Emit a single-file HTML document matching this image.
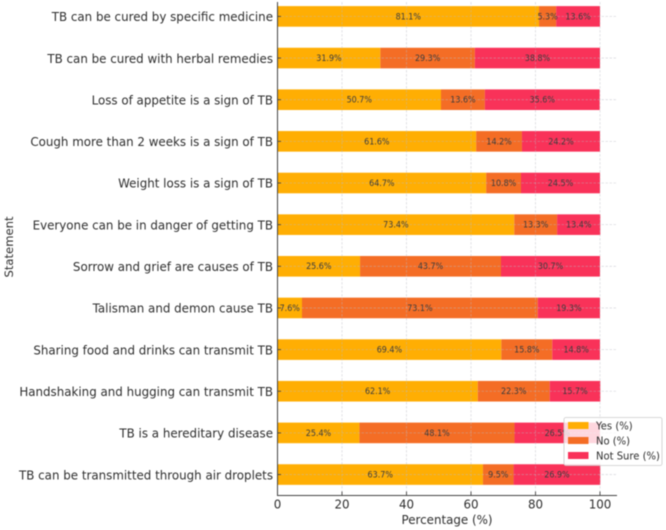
<!DOCTYPE html>
<html>
<head>
<meta charset="utf-8">
<style>
html,body{margin:0;padding:0;background:#fff;width:666px;height:530px;overflow:hidden}
svg{display:block;filter:blur(0.45px)}
text{font-family:"DejaVu Sans","Liberation Sans",sans-serif;fill:#2e2e2e}
</style>
</head>
<body>
<svg id="chart" width="666" height="530" viewBox="0 0 666 530" xmlns="http://www.w3.org/2000/svg"></svg>
<script>
const categories = [
  "TB can be cured by specific medicine",
  "TB can be cured with herbal remedies",
  "Loss of appetite is a sign of TB",
  "Cough more than 2 weeks is a sign of TB",
  "Weight loss is a sign of TB",
  "Everyone can be in danger of getting TB",
  "Sorrow and grief are causes of TB",
  "Talisman and demon cause TB",
  "Sharing food and drinks can transmit TB",
  "Handshaking and hugging can transmit TB",
  "TB is a hereditary disease",
  "TB can be transmitted through air droplets"
];
const yesValues = [81.1,31.9,50.7,61.6,64.7,73.4,25.6,7.6,69.4,62.1,25.4,63.7];
const noValues = [5.3,29.3,13.6,14.2,10.8,13.3,43.7,73.1,15.8,22.3,48.1,9.5];
const notSureValues = [13.6,38.8,35.6,24.2,24.5,13.4,30.7,19.3,14.8,15.7,26.5,26.9];
const xTicks = [0,20,40,60,80,100];
const seriesNames = ["Yes (%)","No (%)","Not Sure (%)"];
const seriesColors = ["#ffae03","#f46d25","#f93259"];

const NS = "http://www.w3.org/2000/svg";
const svg = document.getElementById("chart");
const xScale = v => 277.5 + v * 3.225;
const yScale = i => 16.4 + i * 41.65;
const BAR_H = 20.6;
const SQUEEZE = 0.953;

function mk(tag, attrs, parent, txt) {
  const el = document.createElementNS(NS, tag);
  for (const k in attrs) el.setAttribute(k, attrs[k]);
  if (txt !== undefined) el.textContent = txt;
  (parent || svg).appendChild(el);
  return el;
}
function squeezed(x, y) {
  return "translate(" + x + "," + y + ") scale(" + SQUEEZE + ",1)";
}

// bars and value labels
const labelQueue = [];
const allSeries = [yesValues, noValues, notSureValues];
categories.forEach((cat, i) => {
  let acc = 0;
  allSeries.forEach((vals, s) => {
    const v = vals[i];
    const bar = mk("rect", {x: xScale(acc), y: yScale(i) - BAR_H / 2, width: xScale(acc + v) - xScale(acc), height: BAR_H, fill: seriesColors[s]});
    
    
    labelQueue.push({x: xScale(acc + v / 2), y: yScale(i), v: v});
    acc += v;
  });
});

// grid lines
xTicks.forEach(t => {
  const g = mk("line", {x1: xScale(t), x2: xScale(t), y1: 2, y2: 495, stroke: "#b9b9c4", "stroke-opacity": 0.5, "stroke-width": 0.8, "stroke-dasharray": "2.5 1.5"});
  
  
});
categories.forEach((cat, i) => {
  const g = mk("line", {x1: 277.5, x2: 617, y1: yScale(i), y2: yScale(i), stroke: "#b9b9c4", "stroke-opacity": 0.5, "stroke-width": 0.8, "stroke-dasharray": "2.5 1.5"});
  
  
});

// value labels
labelQueue.forEach(d => {
  const t = mk("text", {transform: squeezed(d.x, d.y + 2.9), "text-anchor": "middle", "font-size": 8.4, style: "fill:#3c3c3c"}, svg, d.v.toFixed(1) + "%");
  
  
});

// category labels and inward ticks
categories.forEach((cat, i) => {
  const tick = mk("line", {x1: 277.5, x2: 281, y1: yScale(i), y2: yScale(i), stroke: "#444", "stroke-width": 0.9});
  
  
  const t = mk("text", {transform: squeezed(273, yScale(i) + 4.7), "text-anchor": "end", "font-size": 12.45}, svg, cat);
  
  
});

// inward x ticks
xTicks.forEach(t => {
  const tick = mk("line", {x1: xScale(t), x2: xScale(t), y1: 491.5, y2: 495.5, stroke: "#444", "stroke-width": 0.9});
  
  
  const l = mk("text", {transform: squeezed(xScale(t), 508.7), "text-anchor": "middle", "font-size": 12.45}, svg, String(t));
  
  
});

// spines
const spineL = mk("line", {x1: 277.5, x2: 277.5, y1: 2, y2: 495.5, stroke: "#444", "stroke-width": 1});


const spineB = mk("line", {x1: 277, x2: 617, y1: 495.5, y2: 495.5, stroke: "#444", "stroke-width": 1});



// axis titles
const xTitle = mk("text", {transform: squeezed(447, 524), "text-anchor": "middle", "font-size": 12.45}, svg, "Percentage (%)");


const yTitle = mk("text", {x: 0, y: 0, transform: "translate(13,247) rotate(-90)", "text-anchor": "middle", "font-size": 11.6}, svg, "Statement");



// legend
const legend = mk("g", {});


mk("rect", {x: 564, y: 417.5, width: 98, height: 48, rx: 2, fill: "#fff", "fill-opacity": 0.8, stroke: "#ccc", "stroke-width": 0.8}, legend);
seriesNames.forEach((name, s) => {
  const y = 425.5 + s * 15;
  const swatch = mk("rect", {x: 568, y: y - 3.5, width: 20.5, height: 7, fill: seriesColors[s]}, legend);
  
  
  const t = mk("text", {transform: squeezed(596, y + 3.8), "font-size": 10.5}, legend, name);
  
  
});
</script>
</body>
</html>
